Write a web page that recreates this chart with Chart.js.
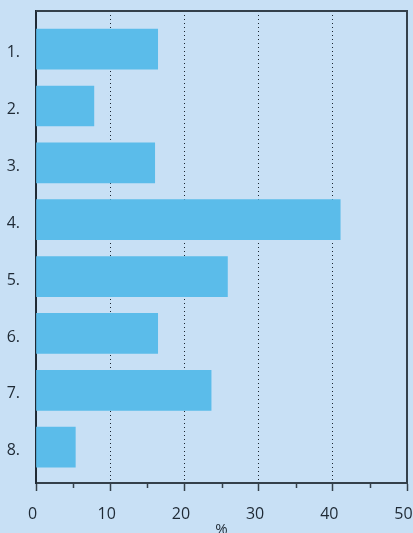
<!DOCTYPE html>
<html>
<head>
<meta charset="utf-8">
<script src="https://cdn.jsdelivr.net/npm/chart.js@4"></script>
<style>
  html, body { margin: 0; padding: 0; background: #c8e0f5; }
  canvas { display: block; background: #c8e0f5; }
</style>
</head>
<body>
<canvas id="grafico" width="413" height="533"></canvas>
<script>
// categorias e valores (%)
const categorias = ['1.', '2.', '3.', '4.', '5.', '6.', '7.', '8.'];
const valores = [16.4, 7.8, 16.0, 41.0, 25.8, 16.4, 23.6, 5.3];
const ticksX = [0, 10, 20, 30, 40, 50];
const ticksMenores = [5, 15, 25, 35, 45];

const corTexto = '#1f2a35';
const corEixo = '#34404a';

// moldura superior/direita e os traços menores do eixo x
const moldura = {
    id: 'moldura',
    afterDraw(chart) {
        const { ctx, chartArea: a, scales: { x } } = chart;
        ctx.save();
        ctx.strokeStyle = corEixo;
        ctx.lineWidth = 2;
        ctx.beginPath();
        ctx.moveTo(a.left, a.top);
        ctx.lineTo(a.right, a.top);
        ctx.lineTo(a.right, a.bottom);
        ctx.stroke();
        ctx.lineWidth = 1.5;
        ctx.beginPath();
        ticksMenores.forEach(v => {
            const px = Math.round(x.getPixelForValue(v)) + 0.5;
            ctx.moveTo(px, a.bottom);
            ctx.lineTo(px, a.bottom + 5);
        });
        ctx.stroke();
        ctx.restore();
    }
};

document.addEventListener('DOMContentLoaded', function () {
    const ctx = document.getElementById('grafico').getContext('2d');
    new Chart(ctx, {
        type: 'bar',
        data: {
            datasets: [{
                data: valores.map((v, i) => ({ x: v, y: i + 1 })),
                backgroundColor: '#5bbcea',
                borderWidth: 0,
                barThickness: 40
            }]
        },
        options: {
            indexAxis: 'y',
            responsive: false,
            animation: false,
            devicePixelRatio: 1,
            layout: { padding: { top: 11, right: 6, left: 0, bottom: 0 } },
            scales: {
                x: {
                    type: 'linear',
                    position: 'bottom',
                    min: 0,
                    max: 50,
                    afterBuildTicks: s => { s.ticks = ticksX.map(v => ({ value: v })); },
                    afterFit: s => { s.height = 50; s.paddingLeft = 0; s.paddingRight = 0; },
                    ticks: {
                        color: corTexto,
                        font: { family: 'Open Sans', size: 16 },
                        padding: 14,
                        labelOffset: -3.5,
                        maxRotation: 0
                    },
                    grid: {
                        color: c => (c.tick && c.tick.value > 0 && c.tick.value < 50) ? '#1a2530' : 'transparent',
                        tickColor: corEixo,
                        tickLength: 8,
                        tickWidth: 1.5,
                        lineWidth: 1
                    },
                    border: { color: corEixo, width: 2, dash: [1, 3] },
                    title: {
                        display: true,
                        text: '%',
                        color: corTexto,
                        font: { family: 'Open Sans', size: 15 },
                        padding: { top: 0, bottom: -6 }
                    }
                },
                y: {
                    type: 'linear',
                    reverse: true,
                    offset: false,
                    min: 0.33,
                    max: 8.63,
                    afterBuildTicks: s => { s.ticks = categorias.map((c, i) => ({ value: i + 1 })); },
                    afterFit: s => { s.width = 36; s.paddingTop = 0; s.paddingBottom = 0; },
                    ticks: {
                        color: corTexto,
                        font: { family: 'Open Sans', size: 16 },
                        padding: 16,
                        labelOffset: 3.5,
                        callback: v => categorias[v - 1]
                    },
                    grid: { display: false, drawTicks: false },
                    border: { color: '#1f2a35', width: 2 }
                }
            },
            plugins: {
                legend: { display: false },
                tooltip: { enabled: false }
            }
        },
        plugins: [moldura]
    });
});
</script>
</body>
</html>
